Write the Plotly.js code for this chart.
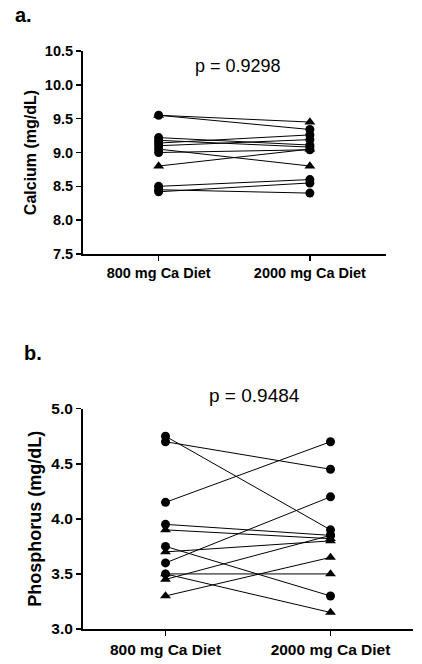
<!DOCTYPE html>
<html>
<head>
<meta charset="utf-8">
<script src="https://cdn.plot.ly/plotly-3.0.1.min.js"></script>
<style>html,body{margin:0;padding:0;background:#fff;}#chart{width:422px;height:664px;}</style>
</head>
<body>
<div id="chart"></div>
<script>
// ---- data ----
const categories = ['800 mg Ca Diet', '2000 mg Ca Diet'];

// Panel a: serum calcium (mg/dL), one entry per subject
const calcium800  = [9.55, 9.55, 9.22, 9.18, 9.14, 9.10, 9.05, 9.00, 8.80, 8.50, 8.42, 8.45];
const calcium2000 = [9.45, 9.34, 9.11, 9.08, 9.26, 9.19, 8.80, 9.04, 9.05, 8.60, 8.55, 8.40];
const calciumShape800  = ['triangle', 'circle', 'circle', 'circle', 'circle', 'circle', 'circle', 'circle', 'triangle', 'circle', 'circle', 'circle'];
const calciumShape2000 = ['triangle', 'circle', 'circle', 'circle', 'circle', 'circle', 'triangle', 'circle', 'triangle', 'circle', 'circle', 'circle'];
const calciumP = 'p = 0.9298';

// Panel b: serum phosphorus (mg/dL), one entry per subject
const phos800  = [4.75, 4.70, 4.15, 3.95, 3.90, 3.75, 3.70, 3.60, 3.50, 3.50, 3.45, 3.30];
const phos2000 = [3.90, 4.45, 4.70, 3.85, 3.82, 3.30, 3.80, 4.20, 3.15, 3.50, 3.85, 3.65];
const phosShape800  = ['circle', 'circle', 'circle', 'circle', 'triangle', 'circle', 'triangle', 'circle', 'circle', 'triangle', 'triangle', 'triangle'];
const phosShape2000 = ['circle', 'circle', 'circle', 'circle', 'triangle', 'circle', 'triangle', 'circle', 'triangle', 'triangle', 'circle', 'triangle'];
const phosP = 'p = 0.9484';

// ---- build ----
const W = 422, H = 664;
const symMap = {circle: 'circle', triangle: 'triangle-up'};
const sizeMap = {circle: 9, triangle: 9.5};

function pairTraces(a, b, sa, sb, xa, ya) {
  return a.map((v, i) => ({
    type: 'scatter',
    mode: 'lines+markers',
    x: categories.slice(),
    y: [v, b[i]],
    xaxis: xa, yaxis: ya,
    showlegend: false,
    hoverinfo: 'skip',
    opacity: 1,
    line: {color: '#000000', width: 1},
    marker: {
      color: '#000000',
      opacity: 1,
      symbol: [symMap[sa[i]], symMap[sb[i]]],
      size: [sizeMap[sa[i]], sizeMap[sb[i]]],
      line: {width: 0, color: '#000000'}
    },
    cliponaxis: false
  }));
}

const traces = [].concat(
  pairTraces(calcium800, calcium2000, calciumShape800, calciumShape2000, 'x', 'y'),
  pairTraces(phos800, phos2000, phosShape800, phosShape2000, 'x2', 'y2')
);

const FONT = 'Liberation Sans, Arial, sans-serif';
const tickFontA = {family: FONT, size: 14.5, color: '#000', weight: 'bold'};
const tickFontB = {family: FONT, size: 15.5, color: '#000', weight: 'bold'};

const xCommon = {
  type: 'category',
  range: [-0.5, 1.5],
  showgrid: false, zeroline: false,
  showline: true, linecolor: '#000', linewidth: 2,
  ticks: 'outside', ticklen: 5, tickwidth: 1.5, tickcolor: '#000',
  fixedrange: true
};
const yCommon = {
  showgrid: false, zeroline: false,
  showline: true, linecolor: '#000', linewidth: 2,
  ticks: 'outside', ticklen: 5, tickwidth: 1.5, tickcolor: '#000',
  fixedrange: true
};

const layout = {
  width: W, height: H,
  margin: {l: 0, r: 0, t: 0, b: 0},
  paper_bgcolor: '#fff', plot_bgcolor: '#fff',
  showlegend: false,
  xaxis: Object.assign({}, xCommon, {
    domain: [83 / W, 385.5 / W], anchor: 'y',
    categoryorder: 'array', categoryarray: categories,
    tickfont: tickFontA
  }),
  yaxis: Object.assign({}, yCommon, {
    domain: [1 - 254 / H, 1 - 51 / H], anchor: 'x',
    range: [7.5, 10.5], tickvals: [7.5, 8.0, 8.5, 9.0, 9.5, 10.0, 10.5],
    ticktext: ['7.5', '8.0', '8.5', '9.0', '9.5', '10.0', '10.5'],
    tickfont: tickFontA,
    title: {text: 'Calcium (mg/dL)', font: {family: FONT, size: 16, color: '#000', weight: 'bold'}, standoff: 4}
  }),
  xaxis2: Object.assign({}, xCommon, {
    domain: [83 / W, 413 / W], anchor: 'y2',
    categoryorder: 'array', categoryarray: categories,
    tickfont: tickFontB
  }),
  yaxis2: Object.assign({}, yCommon, {
    domain: [1 - 629 / H, 1 - 408.7 / H], anchor: 'x2',
    range: [3.0, 5.0], tickvals: [3.0, 3.5, 4.0, 4.5, 5.0],
    ticktext: ['3.0', '3.5', '4.0', '4.5', '5.0'],
    tickfont: tickFontB,
    title: {text: 'Phosphorus (mg/dL)', font: {family: FONT, size: 18, color: '#000', weight: 'bold'}, standoff: 5}
  }),
  annotations: [
    {text: 'a.', xref: 'paper', yref: 'paper', x: 13 / W, y: 1 - 15 / H, xanchor: 'left', yanchor: 'middle',
     showarrow: false, font: {family: FONT, size: 20, color: '#000', weight: 'bold'}},
    {text: 'b.', xref: 'paper', yref: 'paper', x: 22 / W, y: 1 - 353 / H, xanchor: 'left', yanchor: 'middle',
     showarrow: false, font: {family: FONT, size: 20, color: '#000', weight: 'bold'}},
    {text: calciumP, xref: 'paper', yref: 'paper', x: 238 / W, y: 1 - 66 / H, xanchor: 'center', yanchor: 'middle',
     showarrow: false, font: {family: FONT, size: 18, color: '#000'}},
    {text: phosP, xref: 'paper', yref: 'paper', x: 254 / W, y: 1 - 395 / H, xanchor: 'center', yanchor: 'middle',
     showarrow: false, font: {family: FONT, size: 19, color: '#000'}}
  ]
};

Plotly.newPlot('chart', traces, layout, {staticPlot: true, displayModeBar: false});
</script>
</body>
</html>
